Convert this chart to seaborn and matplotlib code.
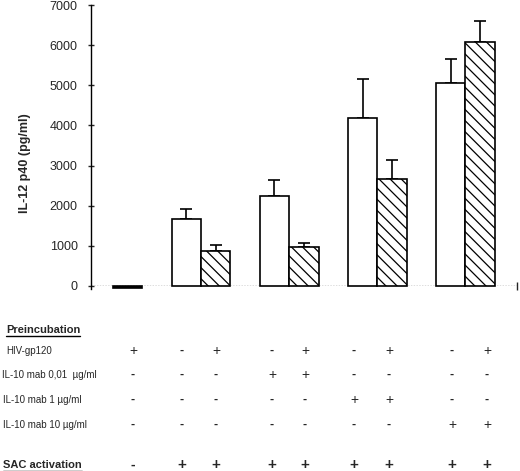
import numpy as np
import pandas as pd
import seaborn as sns
import matplotlib.pyplot as plt
from matplotlib.lines import Line2D

# bar data (pg/ml), upper error only
conditions = ["ctrl", "sac", "sac_gp", "m001", "m001_gp", "m1", "m1_gp", "m10", "m10_gp"]
il12 = [-40, 1680, 860, 2230, 970, 4190, 2670, 5060, 6070]
il12_err = [0, 250, 160, 400, 110, 970, 480, 600, 540]
gp120_bar = [False, False, True, False, True, False, True, False, True]

# table under the chart
row_labels = ["HIV-gp120", "IL-10 mab 0,01  \u00b5g/ml", "IL-10 mab 1 \u00b5g/ml", "IL-10 mab 10 \u00b5g/ml"]
row_hiv = ["+", "-", "+", "-", "+", "-", "+", "-", "+"]
row_m001 = ["-", "-", "-", "+", "+", "-", "-", "-", "-"]
row_m1 = ["-", "-", "-", "-", "-", "+", "+", "-", "-"]
row_m10 = ["-", "-", "-", "-", "-", "-", "-", "+", "+"]
row_sac = ["-", "+", "+", "+", "+", "+", "+", "+", "+"]

# slots with empty spacers between groups
order = ["ctrl", "_a", "sac", "sac_gp", "_b", "m001", "m001_gp", "_c", "m1", "m1_gp", "_d", "m10", "m10_gp"]

df = pd.DataFrame({"condition": conditions, "il12": il12})

sns.set_style("ticks")
plt.rcParams["font.family"] = ["Liberation Sans", "DejaVu Sans"]
plt.rcParams["hatch.linewidth"] = 0.9

W, H = 520, 471
fig = plt.figure(figsize=(W / 100, H / 100), dpi=100)
ax = fig.add_axes([91 / W, 1 - 286 / H, (517 - 91) / W, 281 / H])

sns.barplot(data=df, x="condition", y="il12", order=order, width=1.0,
            color="white", edgecolor="black", linewidth=1.2, ax=ax, zorder=3)

pos = [order.index(c) for c in conditions]
for bar_patch, c in zip(ax.patches, [o for o in order if o in conditions]):
    i = conditions.index(c)
    bar_patch.set_clip_on(False)
    if gp120_bar[i]:
        bar_patch.set_hatch("\\\\\\")
    if i == 0:
        bar_patch.set_facecolor("black")

errs = np.array(il12_err)
ax.errorbar(pos[1:], il12[1:], yerr=[np.zeros(len(errs) - 1), errs[1:]], fmt="none",
            ecolor="black", elinewidth=1.2, capsize=4.5, capthick=1.2, zorder=2)

ax.axhline(0, color="0.35", lw=1, ls=(0, (1, 1)), zorder=1)
ax.set_xlim(-1.25, 13.26)
ax.set_ylim(0, 7000)
ax.set_yticks(range(0, 7001, 1000))
ax.set_xticks([13.26])
ax.set_xticklabels([""])
ax.tick_params(axis="y", direction="inout", length=5, width=1, labelsize=9, pad=7)
ax.tick_params(axis="x", direction="inout", length=6, width=1)
for s in ["top", "right", "bottom"]:
    ax.spines[s].set_visible(False)
ax.spines["left"].set_linewidth(1)
ax.spines["left"].set_color("black")
ax.spines["left"].set_bounds(-80, 7000)
ax.set_xlabel("")
ax.set_ylabel("IL-12 p40 (pg/ml)", fontsize=9, fontweight="bold")
ax.yaxis.set_label_coords((31 - 91) / 426, (286 - 163) / 281)

# table text
col_x = [133, 182, 216, 272, 305, 354, 389, 452, 487]
row_y = [351, 375, 400, 425]
label_x = [6, 2, 3, 3]

def fx(px):
    return px / W

def fy(py):
    return 1 - py / H

headers = []
headers.append(fig.text(fx(6), fy(330), "Preincubation", fontsize=8, fontweight="bold", va="center"))
headers.append(fig.text(fx(3), fy(465), "SAC activation", fontsize=8, fontweight="bold", va="center"))

for lab, lx, ry, row in zip(row_labels, label_x, row_y, [row_hiv, row_m001, row_m1, row_m10]):
    fig.text(fx(lx), fy(ry), lab, fontsize=7, va="center")
    for cx, sym in zip(col_x, row):
        if sym == "+":
            fig.text(fx(cx), fy(ry), sym, fontsize=10, ha="center", va="center")
        else:
            fig.text(fx(cx), fy(ry), sym, fontsize=9, fontweight="bold", ha="center", va="center")
for cx, sym in zip(col_x, row_sac):
    fig.text(fx(cx), fy(465), sym, fontsize=11 if sym == "+" else 10,
             fontweight="bold", ha="center", va="center")

fig.canvas.draw()
rend = fig.canvas.get_renderer()
for t in headers:
    bb = t.get_window_extent(rend)
    y0 = (bb.y0 - 1) / H
    fig.add_artist(Line2D([bb.x0 / W, bb.x1 / W], [y0, y0], color="black", lw=1,
                          transform=fig.transFigure))

fig.savefig("out.png", dpi=100)
